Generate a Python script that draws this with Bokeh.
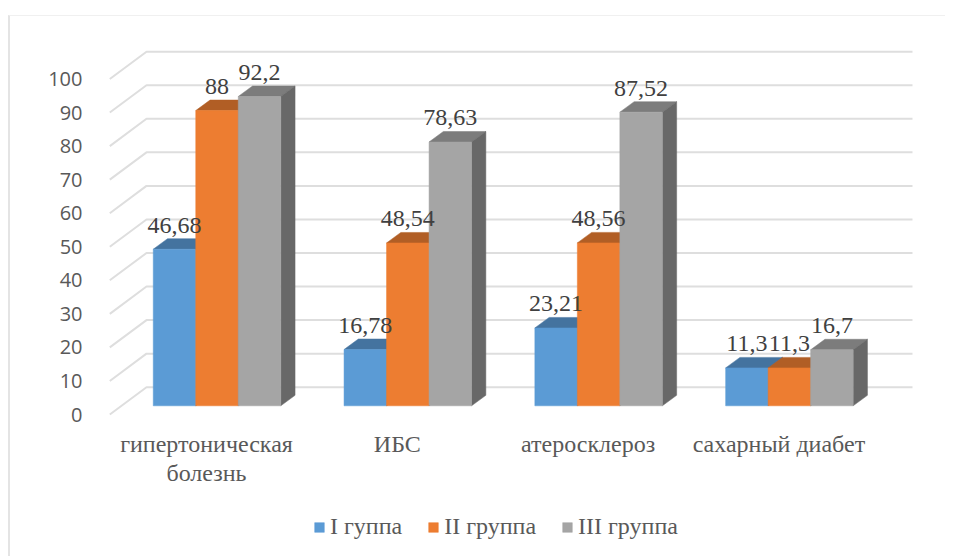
from bokeh.plotting import figure
from bokeh.models import (FixedTicker, Legend, LegendItem, ColumnDataSource)
from bokeh.core.properties import value
from bokeh.embed import file_html
from bokeh.resources import INLINE

categories = ["гипертоническая\nболезнь", "ИБС", "атеросклероз", "сахарный диабет"]
series_names = ["I гуппа", "II группа", "III группа"]
group1 = [46.68, 16.78, 23.21, 11.3]
group2 = [88, 48.54, 48.56, 11.3]
group3 = [92.2, 78.63, 87.52, 16.7]
label1 = ["46,68", "16,78", "23,21", "11,3"]
label2 = ["88", "48,54", "48,56", "11,3"]
label3 = ["92,2", "78,63", "87,52", "16,7"]
y_ticks = [0, 10, 20, 30, 40, 50, 60, 70, 80, 90, 100]

front_colors = ["#5B9BD5", "#ED7D31", "#A5A5A5"]
top_colors = ["#44739F", "#B15E25", "#7C7C7C"]
side_colors = ["#44689A", "#A0541F", "#686868"]
GRID = "#DEDEDE"
TEXT = "#595959"
LABEL = "#404040"

# layout (px)
LEFT, TOP, RIGHT, BOTTOM = 90, 14, 20, 4
frame_w, frame_h = 825, 522
PX_X = 190.8     # px per category
PX_Y = 3.355     # px per value unit

x0 = -106 / PX_X
y_bottom = -138 / PX_Y
p = figure(frame_width=frame_w, frame_height=frame_h,
           output_backend="svg", toolbar_location=None,
           x_range=(x0, x0 + frame_w / PX_X),
           y_range=(y_bottom, y_bottom + frame_h / PX_Y),
           min_border_left=LEFT, min_border_right=RIGHT,
           min_border_top=TOP, min_border_bottom=BOTTOM,
           outline_line_color=None,
           styles={"border-left": "2px solid #E4E4E4", "border-top": "1px solid #F0F0F0",
                   "margin-left": "8px", "margin-top": "15px"})
p.grid.visible = False
p.xaxis.visible = False

# sizes converted to data units
bar_w = 42.5 / PX_X
shift = 10.5 / PX_X        # bars centre vs label centre
floor = 8.7 / PX_Y         # bar front base above axis zero
dep_x = 14.3 / PX_X
dep_y = 10.5 / PX_Y
wall_x0 = (109.3 - 206) / PX_X
wall_x1 = (146 - 206) / PX_X
wall_x2 = (912 - 206) / PX_X
wall_dy = 27.3 / PX_Y

# gridlines: side wall diagonals + back wall
p.multi_line(xs=[[wall_x0, wall_x1, wall_x2] for _ in y_ticks],
             ys=[[t, t + wall_dy, t + wall_dy] for t in y_ticks],
             line_color=GRID, line_width=2)

renderers = []
series = [group1, group2, group3]
for gi in range(len(categories)):
    for si, vals in enumerate(series):
        v = vals[gi]
        l = gi + shift + (si - 1.5) * bar_w
        r = l + bar_w
        b = floor
        t = floor + v
        p.patch([l, r, r + dep_x, l + dep_x], [t, t, t + dep_y, t + dep_y],
                fill_color=top_colors[si], line_color=top_colors[si], line_width=0.5)
        p.patch([r, r + dep_x, r + dep_x, r], [b, b + dep_y, t + dep_y, t],
                fill_color=side_colors[si], line_color=side_colors[si], line_width=0.5)
        rr = p.quad(left=[l], right=[r], bottom=[b], top=[t],
                    fill_color=front_colors[si], line_color=front_colors[si], line_width=0.5)
        if gi == 0:
            renderers.append(rr)

labels = [label1, label2, label3]
for si, vals in enumerate(series):
    src = ColumnDataSource(dict(
        x=[gi + shift + (si - 1) * bar_w for gi in range(len(categories))],
        y=[floor + v for v in vals],
        t=labels[si]))
    p.text(x="x", y="y", text="t", source=src, y_offset=-24,
           text_align="center", text_baseline="alphabetic",
           text_font=value("Liberation Serif"), text_font_size="24px",
           text_color=LABEL)

# left value axis
p.yaxis.ticker = FixedTicker(ticks=y_ticks)
p.yaxis.axis_line_color = None
p.yaxis.major_tick_line_color = None
p.yaxis.minor_tick_line_color = None
p.yaxis.major_label_standoff = 12
p.yaxis.major_label_text_font = "Open Sans"
p.yaxis.major_label_text_font_size = "20px"
p.yaxis.major_label_text_color = TEXT

# category labels under the plot floor
cat_src = ColumnDataSource(dict(x=list(range(len(categories))),
                                y=[0] * len(categories), t=categories))
p.text(x="x", y="y", text="t", source=cat_src, y_offset=16,
       text_align="center", text_baseline="top", text_line_height=1.12,
       text_font=value("Liberation Serif"), text_font_size="24px", text_color=TEXT)

legend = Legend(items=[LegendItem(label=n, renderers=[r]) for n, r in zip(series_names, renderers)],
                orientation="horizontal", location=(213, 12),
                border_line_color=None, background_fill_alpha=0,
                glyph_width=12, glyph_height=12, label_standoff=5, spacing=25,
                label_text_font="Liberation Serif", label_text_font_size="24px",
                label_text_color=TEXT, margin=0, padding=0)
p.add_layout(legend)

open("out.html", "w").write(file_html(p, INLINE))
